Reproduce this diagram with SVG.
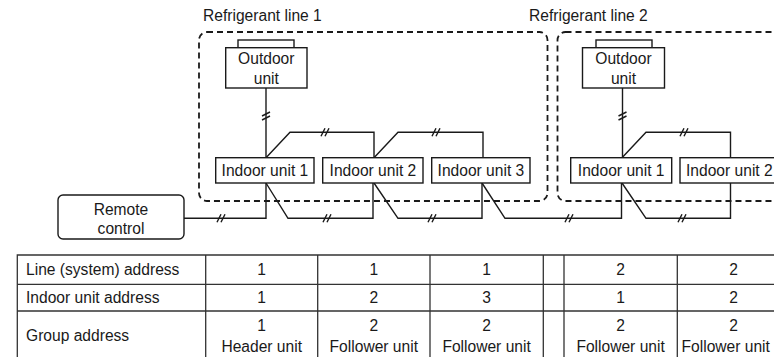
<svg xmlns="http://www.w3.org/2000/svg" width="774" height="357" viewBox="0 0 774 357">
<style>
text{font-family:"Liberation Sans",Arial,sans-serif;font-size:15.6px;fill:#1a1a1a}
.m{text-anchor:middle}
.box{fill:#fff;stroke:#1a1a1a;stroke-width:1.4}
.dash{fill:none;stroke:#1a1a1a;stroke-width:1.8;stroke-dasharray:6 4}
.ln{fill:none;stroke:#1a1a1a;stroke-width:1.4}
.tb{fill:none;stroke:#333;stroke-width:1.3}
</style>
<defs>
<g id="hs"><path d="M-5,4 L-1,-4 M-1,4 L3,-4" class="ln" stroke-width="1.1"/></g>
<g id="vs"><path d="M-4,1 L4,-3 M-4,5 L4,1" class="ln" stroke-width="1.1"/></g>
</defs>
<rect width="774" height="357" fill="#fff"/>

<g id="refline1">
<text x="203" y="20.5">Refrigerant line 1</text>
<rect class="dash" x="199" y="32" width="348.5" height="169" rx="8"/>
</g>
<g id="refline2">
<text x="529" y="20.5">Refrigerant line 2</text>
<rect class="dash" x="557.5" y="32" width="240" height="169" rx="8"/>
</g>

<g id="connectors">
<path class="ln" d="M266,88 V157.7"/>
<path class="ln" d="M266,157.7 L290,132.3 H374 V157.7"/>
<path class="ln" d="M374,157.7 L398,132.3 H483 V157.7"/>
<path class="ln" d="M184,218.3 H266 V183"/>
<path class="ln" d="M266,183 L288,218.3 H373 V183"/>
<path class="ln" d="M374,183 L398,218.3 H482 V183"/>
<path class="ln" d="M482,183 L505,218.3 H621.5 V183"/>
<path class="ln" d="M622,183 L646,218.3 H730.5 V183"/>
<path class="ln" d="M622.5,88 V157.7"/>
<path class="ln" d="M622,157.7 L646,132.3 H730.5 V157.7"/>
<use href="#vs" x="266" y="115"/>
<use href="#vs" x="622.5" y="115"/>
<use href="#hs" x="326" y="132.3"/>
<use href="#hs" x="437" y="132.3"/>
<use href="#hs" x="685" y="132.3"/>
<use href="#hs" x="222" y="218.3"/>
<use href="#hs" x="328" y="218.3"/>
<use href="#hs" x="433" y="218.3"/>
<use href="#hs" x="570" y="218.3"/>
<use href="#hs" x="683" y="218.3"/>
</g>

<g id="outdoor1">
<rect class="box" x="238" y="40" width="56" height="8"/>
<rect class="box" x="225.7" y="47.7" width="81.3" height="40.3"/>
<text class="m" x="266.3" y="64">Outdoor</text>
<text class="m" x="266.3" y="83.5">unit</text>
</g>
<g id="outdoor2">
<rect class="box" x="596" y="40" width="56" height="8"/>
<rect class="box" x="582.5" y="47.7" width="82" height="40.3"/>
<text class="m" x="623.5" y="64">Outdoor</text>
<text class="m" x="623.5" y="83.5">unit</text>
</g>

<g id="indoor1-1">
<rect class="box" x="215.7" y="157.7" width="98.3" height="25.3"/>
<text class="m" x="264.9" y="176.3">Indoor unit 1</text>
</g>
<g id="indoor1-2">
<rect class="box" x="322.7" y="157.7" width="100.3" height="25.3"/>
<text class="m" x="372.9" y="176.3">Indoor unit 2</text>
</g>
<g id="indoor1-3">
<rect class="box" x="431.7" y="157.7" width="98.3" height="25.3"/>
<text class="m" x="480.9" y="176.3">Indoor unit 3</text>
</g>
<g id="indoor2-1">
<rect class="box" x="570.7" y="157.7" width="101" height="25.3"/>
<text class="m" x="621.2" y="176.3">Indoor unit 1</text>
</g>
<g id="indoor2-2">
<rect class="box" x="680" y="157.7" width="101" height="25.3"/>
<text x="686" y="176.3">Indoor unit 2</text>
</g>

<g id="remote">
<rect class="box" x="58" y="195" width="126" height="44" rx="5"/>
<text class="m" x="121" y="214.5">Remote</text>
<text class="m" x="121" y="234">control</text>
</g>

<g id="table">
<path class="tb" d="M17.3,358 V255 H790 M17.3,284.3 H790 M17.3,311 H790 M205.7,255 V358 M317.7,255 V358 M430,255 V358 M543.3,255 V358 M564,255 V358 M677.3,255 V358"/>
<text x="26" y="275">Line (system) address</text>
<text x="26" y="303">Indoor unit address</text>
<text x="26" y="340.5">Group address</text>
<text class="m" x="261.7" y="275">1</text>
<text class="m" x="373.8" y="275">1</text>
<text class="m" x="486.6" y="275">1</text>
<text class="m" x="620.6" y="275">2</text>
<text class="m" x="733.5" y="275">2</text>
<text class="m" x="261.7" y="303">1</text>
<text class="m" x="373.8" y="303">2</text>
<text class="m" x="486.6" y="303">3</text>
<text class="m" x="620.6" y="303">1</text>
<text class="m" x="733.5" y="303">2</text>
<text class="m" x="261.7" y="331">1</text>
<text class="m" x="373.8" y="331">2</text>
<text class="m" x="486.6" y="331">2</text>
<text class="m" x="620.6" y="331">2</text>
<text class="m" x="733.5" y="331">2</text>
<text class="m" x="261.7" y="351.5">Header unit</text>
<text class="m" x="373.8" y="351.5">Follower unit</text>
<text class="m" x="486.6" y="351.5">Follower unit</text>
<text class="m" x="620.6" y="351.5">Follower unit</text>
<text x="681.5" y="351.5">Follower unit</text>
</g>
</svg>
